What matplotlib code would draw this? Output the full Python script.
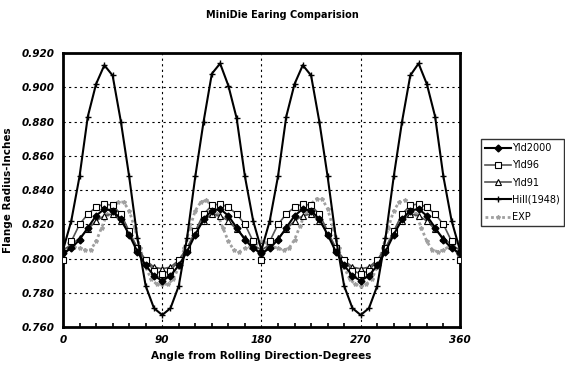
import numpy as np
import matplotlib
matplotlib.use("Agg")
import matplotlib.pyplot as plt
from matplotlib.ticker import MultipleLocator, FormatStrFormatter

# angles (deg) for the model curves, 7.5 deg step
angles_model = [0, 7.5, 15, 22.5, 30, 37.5, 45, 52.5, 60, 67.5, 75, 82.5,
                90, 97.5, 105, 112.5, 120, 127.5, 135, 142.5, 150, 157.5, 165, 172.5,
                180, 187.5, 195, 202.5, 210, 217.5, 225, 232.5, 240, 247.5, 255, 262.5,
                270, 277.5, 285, 292.5, 300, 307.5, 315, 322.5, 330, 337.5, 345, 352.5,
                360]

# angles (deg) for the experiment, 5 deg step
angles_exp = [0, 5, 10, 15, 20, 25, 30, 35, 40, 45, 50, 55, 60, 65, 70, 75, 80, 85,
              90, 95, 100, 105, 110, 115, 120, 125, 130, 135, 140, 145, 150, 155, 160, 165, 170, 175,
              180, 185, 190, 195, 200, 205, 210, 215, 220, 225, 230, 235, 240, 245, 250, 255, 260, 265,
              270, 275, 280, 285, 290, 295, 300, 305, 310, 315, 320, 325, 330, 335, 340, 345, 350, 355,
              360]

yld2000 = [0.803, 0.806, 0.811, 0.818, 0.825, 0.829, 0.828, 0.823, 0.814, 0.804, 0.796, 0.790,
           0.787, 0.790, 0.796, 0.804, 0.814, 0.823, 0.828, 0.829, 0.825, 0.818, 0.811, 0.806,
           0.803, 0.806, 0.811, 0.818, 0.825, 0.829, 0.828, 0.823, 0.814, 0.804, 0.796, 0.790,
           0.787, 0.790, 0.796, 0.804, 0.814, 0.823, 0.828, 0.829, 0.825, 0.818, 0.811, 0.806,
           0.803]

yld96 = [0.799, 0.810, 0.820, 0.826, 0.830, 0.832, 0.831, 0.826, 0.816, 0.806, 0.799, 0.793,
         0.791, 0.793, 0.799, 0.806, 0.816, 0.826, 0.831, 0.832, 0.830, 0.826, 0.820, 0.810,
         0.799, 0.810, 0.820, 0.826, 0.830, 0.832, 0.831, 0.826, 0.816, 0.806, 0.799, 0.793,
         0.791, 0.793, 0.799, 0.806, 0.816, 0.826, 0.831, 0.832, 0.830, 0.826, 0.820, 0.810,
         0.799]

yld91 = [0.805, 0.808, 0.812, 0.817, 0.822, 0.825, 0.826, 0.822, 0.815, 0.806, 0.799, 0.795,
         0.794, 0.795, 0.799, 0.806, 0.815, 0.822, 0.826, 0.825, 0.822, 0.817, 0.812, 0.808,
         0.805, 0.808, 0.812, 0.817, 0.822, 0.825, 0.826, 0.822, 0.815, 0.806, 0.799, 0.795,
         0.794, 0.795, 0.799, 0.806, 0.815, 0.822, 0.826, 0.825, 0.822, 0.817, 0.812, 0.808,
         0.805]

hill = [0.805, 0.822, 0.848, 0.883, 0.902, 0.913, 0.907, 0.880, 0.848, 0.812, 0.784, 0.771,
        0.767, 0.771, 0.784, 0.812, 0.848, 0.880, 0.908, 0.914, 0.901, 0.882, 0.848, 0.822,
        0.805, 0.822, 0.848, 0.883, 0.902, 0.913, 0.907, 0.880, 0.848, 0.812, 0.784, 0.771,
        0.767, 0.771, 0.784, 0.812, 0.848, 0.880, 0.907, 0.914, 0.902, 0.883, 0.848, 0.822,
        0.805]

exp = [0.810, 0.809, 0.807, 0.806, 0.805, 0.805, 0.810, 0.818, 0.826, 0.831, 0.833, 0.833,
       0.828, 0.818, 0.806, 0.795, 0.788, 0.785,
       0.785, 0.785, 0.788, 0.795, 0.806, 0.818, 0.828, 0.833, 0.834, 0.831, 0.826, 0.818,
       0.810, 0.805, 0.804, 0.806, 0.807, 0.809,
       0.810, 0.809, 0.807, 0.806, 0.805, 0.806, 0.811, 0.819, 0.827, 0.832, 0.835, 0.835,
       0.829, 0.818, 0.806, 0.795, 0.788, 0.785,
       0.784, 0.785, 0.788, 0.795, 0.806, 0.818, 0.828, 0.833, 0.834, 0.831, 0.826, 0.818,
       0.810, 0.805, 0.804, 0.805, 0.807, 0.809,
       0.810]

fig = plt.figure(figsize=(5.65, 3.66), dpi=100)
ax = fig.add_axes([0.1115, 0.1066, 0.7025, 0.748])

# experiment: fuzzy light-gray dotted line with tiny stars
ax.plot(angles_exp, exp, color='#a0a0a0', linestyle=(0, (1, 1)), linewidth=2.0,
        marker='*', markersize=3, label='EXP', zorder=2)
ax.plot(angles_model, yld91, color='#555555', linewidth=1.2, marker='^',
        markersize=4, markerfacecolor='white', markeredgecolor='black',
        markeredgewidth=0.8, label='Yld91', zorder=3)
ax.plot(angles_model, yld96, color='#555555', linewidth=1.2, marker='s',
        markersize=4, markerfacecolor='white', markeredgecolor='black',
        markeredgewidth=0.8, label='Yld96', zorder=3)
ax.plot(angles_model, yld2000, color='black', linewidth=1.5, marker='D',
        markersize=3.5, label='Yld2000', zorder=4)
ax.plot(angles_model, hill, color='black', linewidth=1.5, marker='+',
        markersize=4, label='Hill(1948)', zorder=4)

ax.set_xlim(0, 360)
ax.set_ylim(0.760, 0.920)
ax.xaxis.set_major_locator(MultipleLocator(90))
ax.xaxis.set_minor_locator(MultipleLocator(15))
ax.yaxis.set_major_locator(MultipleLocator(0.02))
ax.yaxis.set_major_formatter(FormatStrFormatter('%.3f'))
ax.tick_params(axis='both', which='major', length=0, pad=6)
ax.tick_params(axis='x', which='minor', direction='in', length=3, width=1.2)
for lab in ax.get_xticklabels() + ax.get_yticklabels():
    lab.set_fontweight('bold')
    lab.set_fontstyle('italic')
    lab.set_fontsize(7.5)

ax.grid(True, which='major', color='black', linestyle=(0, (2, 3)), linewidth=0.8)
for side in ax.spines.values():
    side.set_linewidth(2)

ax.set_xlabel('Angle from Rolling Direction-Degrees', fontsize=7.5, fontweight='bold', labelpad=4)
ax.set_ylabel('Flange Radius-Inches', fontsize=7.5, fontweight='bold', labelpad=6)
fig.text(0.5, 0.96, 'MiniDie Earing Comparision', ha='center', va='center',
         fontsize=7, fontweight='bold')

handles, labels = ax.get_legend_handles_labels()
order = ['Yld2000', 'Yld96', 'Yld91', 'Hill(1948)', 'EXP']
h_sorted = [handles[labels.index(n)] for n in order]
leg = fig.legend(h_sorted, order, loc='upper left', bbox_to_anchor=(0.852, 0.62),
                 fontsize=7, frameon=True, fancybox=False, handlelength=2.6,
                 borderpad=0.4, labelspacing=0.75, handletextpad=0.2, borderaxespad=0)
leg.get_frame().set_edgecolor('black')
leg.get_frame().set_linewidth(1.0)

fig.savefig('out.png', dpi=100)
